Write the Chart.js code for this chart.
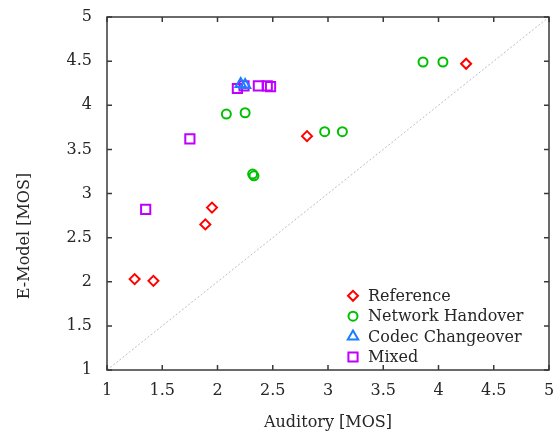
<!DOCTYPE html>
<html>
<head>
<meta charset="utf-8">
<script src="https://cdn.jsdelivr.net/npm/chart.js@4.4.0/dist/chart.umd.min.js"></script>
<style>
  html, body { margin: 0; padding: 0; background: #fff; }
</style>
</head>
<body>
<canvas id="chart" width="560" height="432"></canvas>
<script>
// ==============================|| DATA ||============================== //
const refX = [1.25, 1.42, 1.89, 1.95, 2.81, 4.25];
const refY = [2.03, 2.01, 2.65, 2.84, 3.65, 4.47];

const netX = [2.08, 2.25, 2.97, 3.13, 3.86, 4.04, 2.318, 2.33];
const netY = [3.90, 3.915, 3.70, 3.70, 4.49, 4.49, 3.22, 3.20];

const codecX = [2.21, 2.25];
const codecY = [4.24, 4.23];

const mixedX = [1.35, 1.75, 2.18, 2.24, 2.37, 2.45, 2.48];
const mixedY = [2.82, 3.62, 4.19, 4.22, 4.22, 4.22, 4.21];

const diagX = [1, 5];
const diagY = [1, 5];

const axisMin = 1;
const axisMax = 5;
const tickStep = 0.5;

const xTitle = 'Auditory [MOS]';
const yTitle = 'E-Model [MOS]';

// ==============================|| STYLE ||============================== //
const FONT = "'DejaVu Serif', serif";
const TEXT = '#262626';
const AXIS = '#3a3a3a';

const zip = (xs, ys) => xs.map((x, i) => ({ x: x, y: ys[i] }));
const fmt = v => String(Math.round(v * 10) / 10);

function markers(label, xs, ys, color, style, radius) {
  return {
    label: label,
    data: zip(xs, ys),
    pointStyle: style,
    pointRadius: radius,
    pointHoverRadius: radius,
    pointBorderWidth: 2,
    borderColor: color,
    backgroundColor: 'rgba(0,0,0,0)',
    showLine: false
  };
}

// box, inward ticks, legend and rotated y title
const framePlugin = {
  id: 'frame',
  afterDraw(chart) {
    const ctx = chart.ctx;
    const a = chart.chartArea;
    const xs = chart.scales.x;
    const ys = chart.scales.y;
    const tl = 5;
    ctx.save();
    ctx.strokeStyle = AXIS;
    ctx.lineWidth = 1.5;
    ctx.beginPath();
    xs.ticks.forEach(t => {
      const px = xs.getPixelForValue(t.value);
      ctx.moveTo(px, a.bottom); ctx.lineTo(px, a.bottom - tl);
      ctx.moveTo(px, a.top); ctx.lineTo(px, a.top + tl);
    });
    ys.ticks.forEach(t => {
      const py = ys.getPixelForValue(t.value);
      ctx.moveTo(a.left, py); ctx.lineTo(a.left + tl, py);
      ctx.moveTo(a.right, py); ctx.lineTo(a.right - tl, py);
    });
    ctx.stroke();
    ctx.strokeRect(a.left, a.top, a.right - a.left, a.bottom - a.top);

    // legend, bottom right inside the plot
    const items = chart.data.datasets.filter(d => d.label);
    const rowH = 20.4;
    const mx = a.right - 196;
    ctx.font = '16px ' + FONT;
    ctx.textBaseline = 'middle';
    ctx.textAlign = 'left';
    items.forEach((d, i) => {
      const cy = a.bottom - 13 - (items.length - 1 - i) * rowH;
      ctx.strokeStyle = d.borderColor;
      ctx.fillStyle = 'rgba(0,0,0,0)';
      ctx.lineWidth = 2;
      Chart.helpers.drawPoint(ctx, { pointStyle: d.pointStyle, radius: d.pointRadius, rotation: 0, borderWidth: 2 }, mx, cy);
      ctx.fillStyle = TEXT;
      ctx.fillText(d.label, mx + 15, cy + 1);
    });

    // y axis title
    ctx.translate(25, 236);
    ctx.rotate(-Math.PI / 2);
    ctx.textAlign = 'center';
    ctx.fillStyle = TEXT;
    ctx.fillText(yTitle, 0, 0);
    ctx.restore();
  }
};

new Chart(document.getElementById('chart'), {
  type: 'scatter',
  data: {
    datasets: [
      {
        label: '',
        data: zip(diagX, diagY),
        showLine: true,
        borderColor: '#bdbdbd',
        borderWidth: 1,
        borderDash: [2, 2],
        pointRadius: 0,
        pointHoverRadius: 0
      },
      markers('Reference', refX, refY, '#ff0000', 'rectRot', 5),
      markers('Network Handover', netX, netY, '#00c000', 'circle', 4.5),
      markers('Codec Changeover', codecX, codecY, '#1a7fff', 'triangle', 6),
      markers('Mixed', mixedX, mixedY, '#c000ff', 'rect', 6.5)
    ]
  },
  options: {
    responsive: false,
    animation: false,
    layout: { padding: { top: 17, right: 11, left: 0, bottom: 0 } },
    plugins: {
      legend: { display: false },
      tooltip: { enabled: false }
    },
    scales: {
      x: {
        type: 'linear',
        min: axisMin,
        max: axisMax,
        border: { display: false },
        grid: { display: false, drawTicks: false },
        ticks: { stepSize: tickStep, padding: 11, color: TEXT, font: { family: FONT, size: 16 }, callback: fmt },
        title: { display: true, text: xTitle, color: TEXT, padding: { top: 0, bottom: 0 }, font: { family: FONT, size: 16 } },
        afterFit: s => { s.height = 62; s.paddingLeft = 0; s.paddingRight = 0; }
      },
      y: {
        type: 'linear',
        min: axisMin,
        max: axisMax,
        border: { display: false },
        grid: { display: false, drawTicks: false },
        ticks: { stepSize: tickStep, padding: 15, color: TEXT, font: { family: FONT, size: 16 }, callback: fmt },
        afterFit: s => { s.width = 107; s.paddingTop = 0; s.paddingBottom = 0; }
      }
    }
  },
  plugins: [framePlugin]
});
</script>
</body>
</html>
